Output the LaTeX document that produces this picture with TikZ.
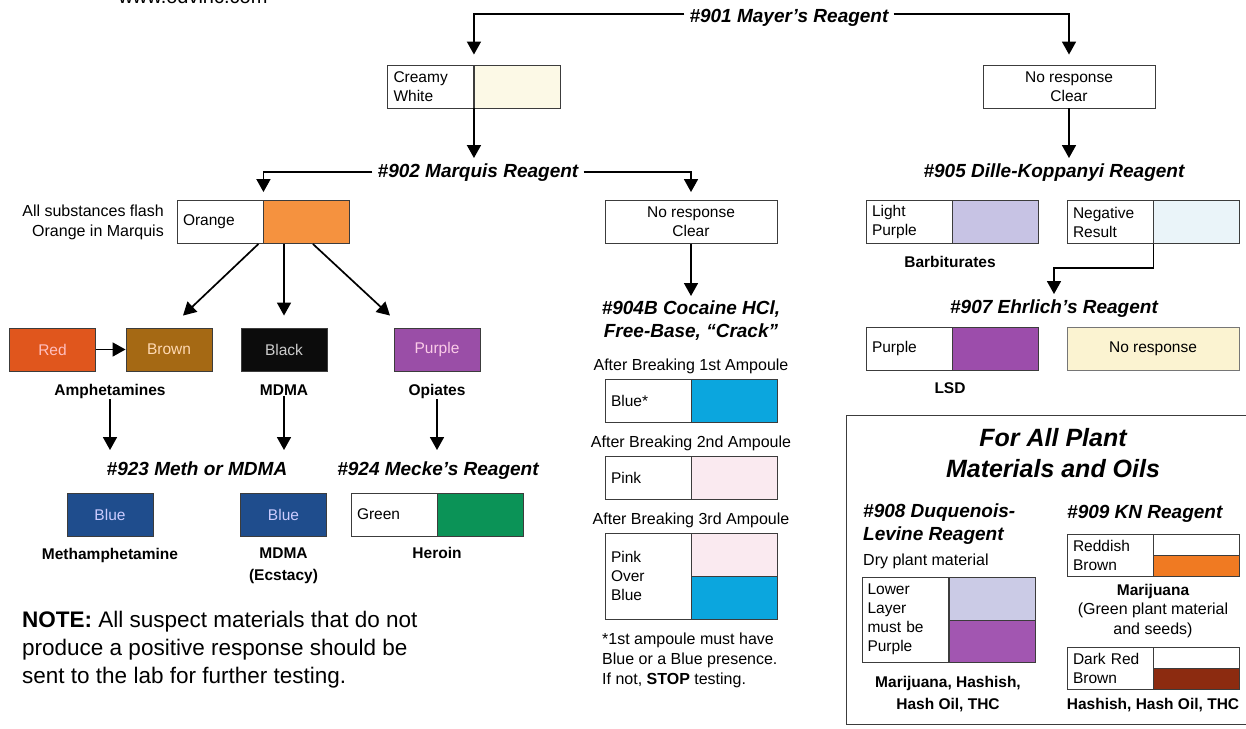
\documentclass[tikz,border=0pt]{standalone}
\usepackage{fontspec}
\setmainfont{Liberation Sans}
\usetikzlibrary{positioning,arrows.meta}

\definecolor{boxline}{HTML}{3C3C3C}
\definecolor{cream}{HTML}{FCF9E6}
\definecolor{orng}{HTML}{F5923F}
\definecolor{redsw}{HTML}{E0561D}
\definecolor{brnsw}{HTML}{A56914}
\definecolor{blksw}{HTML}{0C0C0C}
\definecolor{pursw}{HTML}{9A4EA7}
\definecolor{blusw}{HTML}{1F4D8D}
\definecolor{grnsw}{HTML}{0B9357}
\definecolor{cyansw}{HTML}{0BA6DE}
\definecolor{pinksw}{HTML}{FAEAF0}
\definecolor{lpursw}{HTML}{C7C3E4}
\definecolor{negsw}{HTML}{EAF4F9}
\definecolor{lsdsw}{HTML}{9C4DAB}
\definecolor{nrsw}{HTML}{FBF3D1}
\definecolor{duqtop}{HTML}{CBCBE6}
\definecolor{duqbot}{HTML}{A256B1}
\definecolor{knor}{HTML}{F07A22}
\definecolor{kndark}{HTML}{8C2B10}

\newcommand{\hdfont}{\fontsize{19}{23}\selectfont\bfseries\itshape}
\newcommand{\bgfont}{\fontsize{25}{31}\selectfont\bfseries\itshape}
\newcommand{\bxfont}{\fontsize{15.5}{19}\selectfont}
\newcommand{\smfont}{\fontsize{16}{20}\selectfont}
\newcommand{\lbfont}{\fontsize{15.5}{22}\selectfont\bfseries}
\newcommand{\ntfont}{\fontsize{22.5}{28}\selectfont}

\begin{document}
\begin{tikzpicture}[x=1pt,y=-1pt,
	arr/.style={line width=1.7pt,-{Triangle[width=14pt,length=13pt]}},
	lab/.style={draw=boxline,line width=0.9pt,fill=white,minimum width=86pt,minimum height=43pt,inner sep=0pt,text width=74pt,align=left,font=\bxfont},
	sw/.style={draw=boxline,line width=0.9pt,minimum width=86pt,minimum height=43pt,inner sep=0pt,font=\bxfont},
	wide/.style={draw=boxline,line width=0.9pt,fill=white,minimum width=172pt,minimum height=43pt,inner sep=0pt,align=center,font=\bxfont},
	head/.style={font=\hdfont,inner sep=5pt},
	sub/.style={font=\lbfont,align=center,inner sep=1pt},
	small/.style={font=\smfont,align=center,inner sep=1pt}]
	\useasboundingbox (0,0) rectangle (1246,728);
	\node[font=\fontsize{20}{24}\selectfont,anchor=base,inner sep=0pt] (web) at (193,3) {www.odvinc.com};

	\node[head,anchor=base] (m901) at (789,22) {\#901 Mayer’s Reagent};
	\node[lab] (cw) at (430.5,86.5) {Creamy\\White};
	\node[sw,fill=cream,right=0pt of cw] (cwc) {};
	\node[wide] (nr1) at (1069,86.5) {No response\\Clear};
	\draw[arr] ([yshift=3pt]m901.west) -| ([yshift=10pt]cw.north east);
	\draw[arr] ([yshift=3pt]m901.east) -| ([yshift=10pt]nr1.north);

	\node[head,anchor=base] (m902) at (478,177) {\#902 Marquis Reagent};
	\draw[arr] (cw.south east) -- (cw.south east |- m902.north);
	\node[small,anchor=north east,align=right] (flash) at (165,204) {All substances flash\\Orange in Marquis};
	\node[lab] (or) at (220,222) {Orange};
	\node[sw,fill=orng,right=0pt of or] (orc) {};
	\node[wide] (nr2) at (691,222) {No response\\Clear};
	\draw[arr] (m902.west) -| ([yshift=8pt]or.north east);
	\draw[arr] (m902.east) -| ([yshift=8pt]nr2.north);

	\node[sw,fill=redsw,text=red!25!white] (red) at (52.5,349.5) {Red};
	\node[sw,fill=brnsw,text=orange!30!white] (brn) at (169,349.5) {Brown};
	\node[sw,fill=blksw,text=black!20] (blk) at (284,349.5) {Black};
	\node[sw,fill=pursw,text=magenta!20!white] (pur) at (437,349.5) {Purple};
	\draw[arr] (red) -- (brn);
	\draw[arr] ([xshift=-5pt]orc.south west) -- ([xshift=14pt,yshift=12pt]brn.north);
	\draw[arr] (blk.north |- orc.south) -- ([yshift=12pt]blk.north);
	\draw[arr] ([xshift=6pt]orc.south) -- ([xshift=-47pt,yshift=12pt]pur.north);
	\node[sub,anchor=base] (amph) at (110,395) {Amphetamines};
	\node[sub,anchor=base] (mdma) at (284,395) {MDMA};
	\node[sub,anchor=base] (opi) at (437,395) {Opiates};

	\node[head,anchor=base] (m923) at (197,475) {\#923 Meth or MDMA};
	\node[head,anchor=base] (m924) at (438,475) {\#924 Mecke’s Reagent};
	\draw[arr,shorten >=6pt] (amph.south) -- (amph.south |- m923.north);
	\draw[arr,shorten >=6pt] (mdma.south) -- (mdma.south |- m923.north);
	\draw[arr,shorten >=6pt] (opi.south) -- (opi.south |- m924.north);
	\node[sw,fill=blusw,text=blue!20!white] (bl1) at (110,515) {Blue};
	\node[sw,fill=blusw,text=blue!20!white] (bl2) at (283.5,515) {Blue};
	\node[lab] (gr) at (394,514.5) {Green};
	\node[sw,fill=grnsw,right=0pt of gr] (grc) {};
	\node[sub,anchor=base] (meth) at (110,559) {Methamphetamine};
	\node[sub,anchor=north] (ecs) at (283.5,547) {MDMA\\(Ecstacy)};
	\node[sub,anchor=base] (her) at (437,558) {Heroin};
	\node[font=\ntfont,anchor=north west,align=left,inner sep=0pt] (note) at (22,611) {\textbf{NOTE:} All suspect materials that do not\\produce a positive response should be\\sent to the lab for further testing.};

	\node[head,anchor=north,align=center] (coc) at (691,296) {\#904B Cocaine HCl,\\Free-Base, “Crack”};
	\draw[arr] (nr2.south) -- (coc.north);
	\node[small,anchor=base] (amp1) at (691,370) {After Breaking 1st Ampoule};
	\node[lab] (bl) at (648,401) {Blue*};
	\node[sw,fill=cyansw,right=0pt of bl] (blc) {};
	\node[small,anchor=base] (amp2) at (691,447) {After Breaking 2nd Ampoule};
	\node[lab] (pk) at (648,477.5) {Pink};
	\node[sw,fill=pinksw,right=0pt of pk] (pkc) {};
	\node[small,anchor=base] (amp3) at (691,524) {After Breaking 3rd Ampoule};
	\node[lab,minimum height=86pt] (pob) at (648,576) {Pink\\Over\\Blue};
	\node[sw,fill=pinksw,anchor=north west] (pobt) at (pob.north east) {};
	\node[sw,fill=cyansw,anchor=north west] (pobb) at (pobt.south west) {};
	\node[small,anchor=north west,align=left] (foot) at (601,632) {*1st ampoule must have\\Blue or a Blue presence.\\If not, \textbf{STOP} testing.};

	\node[head,anchor=base] (m905) at (1054,177) {\#905 Dille-Koppanyi Reagent};
	\draw[arr] (nr1.south) -- (nr1.south |- m905.north);
	\node[lab] (lp) at (909,222) {Light\\Purple};
	\node[sw,fill=lpursw,right=0pt of lp] (lpc) {};
	\node[lab] (ng) at (1110,222) {Negative\\Result};
	\node[sw,fill=negsw,right=0pt of ng] (ngc) {};
	\node[sub,anchor=base] (barb) at (950,267) {Barbiturates};
	\node[head,anchor=base] (m907) at (1054,313) {\#907 Ehrlich’s Reagent};
	\coordinate (bend) at (1054,268);
	\draw[arr] (ng.south east) |- (bend) -- (bend |- m907.north);
	\node[lab] (ps) at (909,348.5) {Purple};
	\node[sw,fill=lsdsw,right=0pt of ps] (psc) {};
	\node[sw,fill=nrsw,draw=boxline!70,minimum width=172pt] (nrsp) at (1153,348.5) {No response};
	\node[sub,anchor=base] (lsd) at (950,393) {LSD};

	\node[draw=boxline,line width=1.1pt,anchor=north west,minimum width=430pt,minimum height=309pt,inner sep=0pt] (plant) at (846,415) {};
	\node[font=\bgfont,align=center,anchor=north,inner sep=5pt] (forall) at (1053,423) {For All Plant\\Materials and Oils};
	\node[head,anchor=north west,align=left] (m908) at (858,499) {\#908 Duquenois-\\Levine Reagent};
	\node[small,anchor=base west,inner sep=0pt] (dry) at (863,565) {Dry plant material};
	\node[lab,minimum height=85pt,text width=76pt] (lo) at (905.5,619.5) {Lower\\Layer\\must be\\Purple};
	\node[sw,fill=duqtop,anchor=north west] (lot) at (lo.north east) {};
	\node[sw,fill=duqbot,minimum height=42pt,anchor=north west] (lob) at (lot.south west) {};
	\node[sub,anchor=north] (mjh) at (948,675) {Marijuana, Hashish,\\Hash Oil, THC};

	\node[head,anchor=base west] (m909) at (1062,518) {\#909 KN Reagent};
	\node[lab,minimum height=42pt] (rb) at (1110,555) {Reddish\\Brown};
	\node[sw,fill=white,minimum height=21pt,anchor=north west] (rbt) at (rb.north east) {};
	\node[sw,fill=knor,minimum height=21pt,anchor=north west] (rbb) at (rbt.south west) {};
	\node[sub,anchor=base] (mj) at (1153,595) {Marijuana};
	\node[small,anchor=north] (mjg) at (1153,602) {(Green plant material\\and seeds)};
	\node[lab,minimum height=42pt] (dr) at (1110,668) {Dark Red\\Brown};
	\node[sw,fill=white,minimum height=21pt,anchor=north west] (drt) at (dr.north east) {};
	\node[sw,fill=kndark,minimum height=21pt,anchor=north west] (drb) at (drt.south west) {};
	\node[sub,anchor=base] (hh) at (1153,709) {Hashish, Hash Oil, THC};
\end{tikzpicture}
\end{document}
